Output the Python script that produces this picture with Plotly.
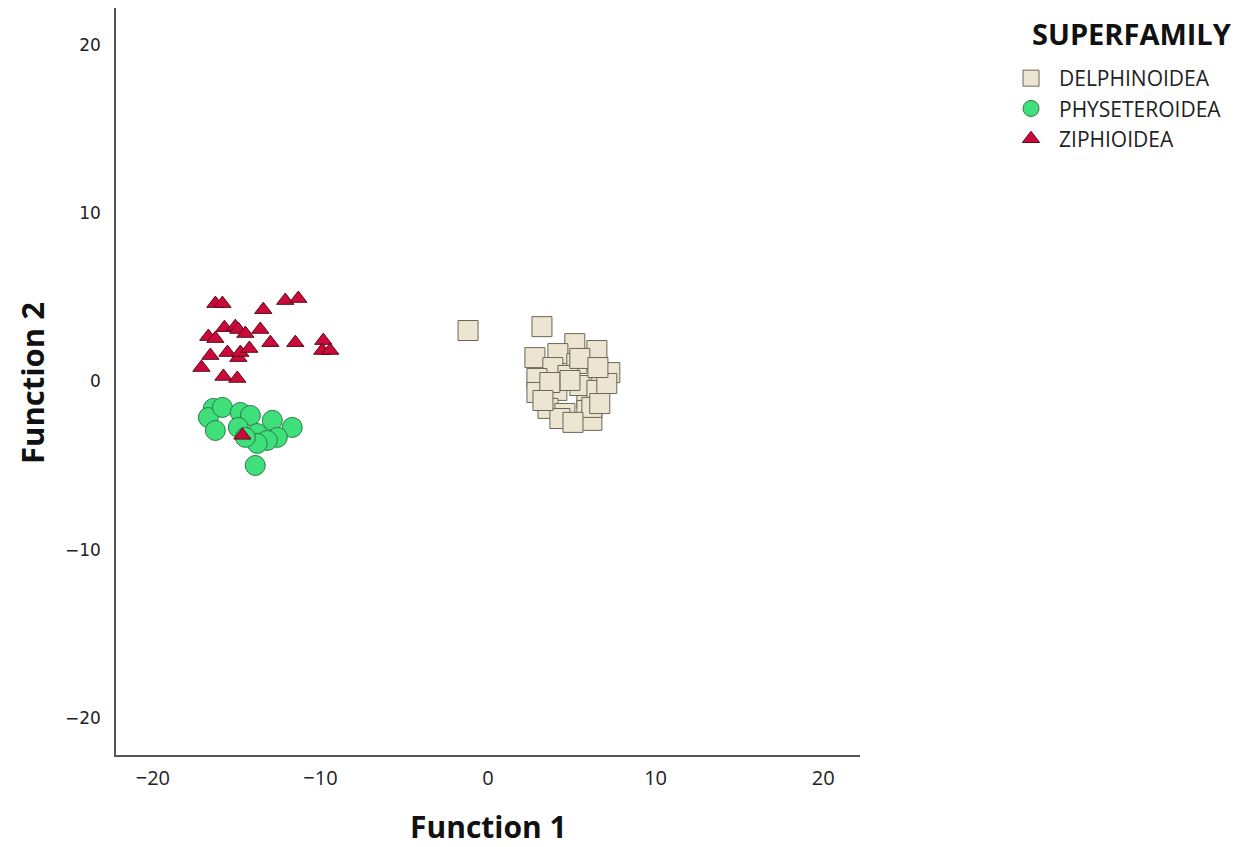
import plotly.graph_objects as go

# Discriminant function scores per superfamily
delph_f1 = [-1.19, 3.22, 2.80, 5.18, 6.50, 4.17, 5.30, 3.87, 4.77, 6.79, 7.27, 2.92, 4.11,
            2.92, 5.90, 3.58, 4.59, 5.90, 6.20, 4.29, 5.48, 6.50, 7.09, 4.89, 3.69, 5.48,
            6.56, 6.20, 5.07, 3.28, 6.67]
delph_f2 = [3.03, 3.26, 1.42, 2.25, 1.84, 1.66, 1.07, 0.83, 0.36, 0.47, 0.53, 0.18, -0.53,
            -0.65, -0.95, -1.60, -1.90, -1.72, -2.31, -2.20, -0.24, -0.53, -0.12, 0.06, -0.06, 1.37,
            0.83, -1.54, -2.43, -1.13, -1.31]

phys_f1 = [-16.39, -16.69, -15.85, -14.78, -14.18, -16.27, -14.90, -13.77, -12.87, -11.68,
           -12.57, -13.17, -13.89, -13.77, -14.48]
phys_f2 = [-1.60, -2.14, -1.54, -1.84, -2.02, -2.91, -2.73, -3.09, -2.31, -2.73,
           -3.32, -3.50, -4.99, -3.68, -3.32]

ziph_f1 = [-16.27, -15.85, -13.41, -12.10, -11.32, -15.73, -15.08, -14.90, -14.48, -16.69,
           -16.27, -13.59, -12.99, -11.50, -9.83, -9.89, -9.42, -16.57, -15.55, -14.90,
           -14.78, -14.24, -17.10, -15.79, -14.96, -14.66]
ziph_f2 = [4.63, 4.63, 4.27, 4.81, 4.93, 3.20, 3.26, 3.09, 2.85, 2.67,
           2.55, 3.09, 2.31, 2.31, 2.43, 1.84, 1.84, 1.54, 1.72, 1.42,
           1.72, 1.96, 0.83, 0.30, 0.18, -3.20]

tick_vals = [-20, -10, 0, 10, 20]

fig = go.Figure()
fig.add_trace(go.Scatter(
    x=delph_f1, y=delph_f2, mode="markers", name="DELPHINOIDEA",
    marker=dict(symbol="square", size=20, color="#ebe5d1",
                line=dict(color="#6b6656", width=1)),
))
fig.add_trace(go.Scatter(
    x=phys_f1, y=phys_f2, mode="markers", name="PHYSETEROIDEA",
    marker=dict(symbol="circle", size=20, color="#3fe07c",
                line=dict(color="#2a7a45", width=1)),
))
fig.add_trace(go.Scatter(
    x=ziph_f1, y=ziph_f2, mode="markers", name="ZIPHIOIDEA",
    marker=dict(symbol="triangle-up", size=15, color="#cc0a3a",
                line=dict(color="#5a0a1a", width=1)),
))

axis_common = dict(
    range=[-22.2, 22.2], tickvals=tick_vals, showgrid=False, zeroline=False,
    showline=True, linecolor="#555555", linewidth=1.5, ticks="", automargin=False,
)

fig.update_layout(
    width=1249, height=847,
    margin=dict(l=116, r=389, t=8, b=92),
    plot_bgcolor="white", paper_bgcolor="white",
    xaxis=dict(**axis_common,
               tickfont=dict(family="Open Sans", size=20, color="#222222"),
               ticklabelstandoff=4),
    yaxis=dict(**axis_common,
               tickfont=dict(family="DejaVu Sans", size=17, color="#222222"),
               ticklabelstandoff=10),
    legend=dict(
        xref="container", yref="container", x=1003 / 1249, y=1 - 58 / 847,
        xanchor="left", yanchor="top",
        font=dict(family="Open Sans", size=21, color="#222222"),
        itemsizing="trace", tracegroupgap=0, itemwidth=46,
    ),
    showlegend=True,
    annotations=[
        dict(text="<b>SUPERFAMILY</b>", xref="paper", yref="paper",
             x=1, xshift=1030 - 860, y=1, yshift=8 - 33, xanchor="left", yanchor="middle",
             showarrow=False,
             font=dict(family="Open Sans", size=29, color="#111111")),
        dict(text="<b>Function 1</b>", xref="paper", yref="paper",
             x=0.5, y=0, yshift=755 - 826, xanchor="center", yanchor="middle",
             showarrow=False,
             font=dict(family="Open Sans", size=30, color="#111111")),
        dict(text="<b>Function 2</b>", xref="paper", yref="paper",
             x=0, xshift=32 - 116, y=(755 - 383) / 747, xanchor="center", yanchor="middle",
             textangle=-90, showarrow=False,
             font=dict(family="Open Sans", size=31, color="#111111")),
    ],
)

fig.write_html("out.html")
